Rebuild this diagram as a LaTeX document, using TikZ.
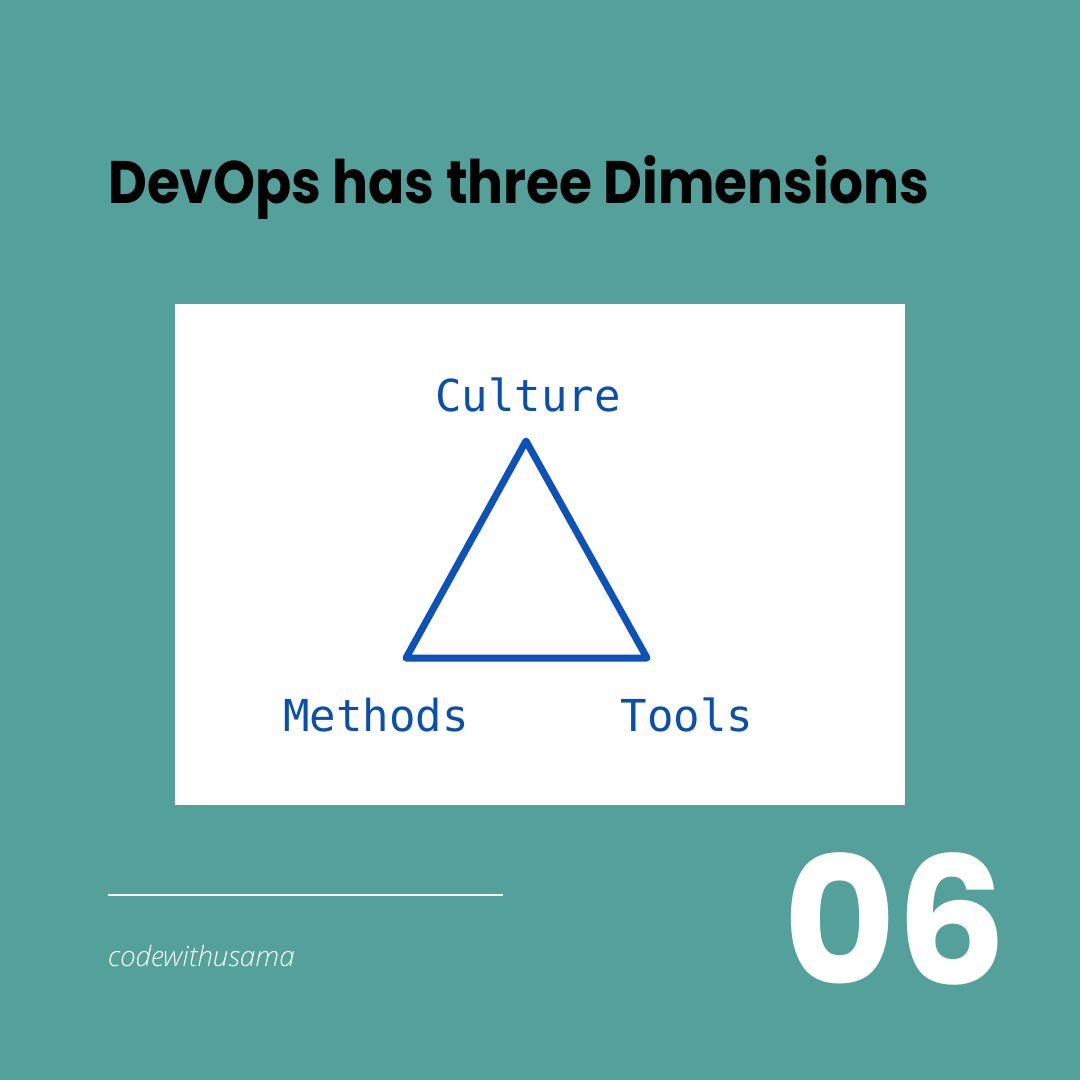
\documentclass[tikz,border=0pt]{standalone}
\usepackage{fontspec}
\setmainfont{Poppins}
\newfontfamily\titlefont{Poppins}[UprightFont=* Bold]
\newfontfamily\bigfont{Poppins}[UprightFont=* Bold]
\newfontfamily\monofont{DejaVu Sans Mono}
\newfontfamily\signfont{Open Sans}[UprightFont=* Light Italic]
\definecolor{bgteal}{HTML}{53A19A}
\definecolor{triblue}{HTML}{0D52B8}
\definecolor{textblue}{HTML}{0A4FAE}
\tikzset{
  lbl/.style={font=\monofont\fontsize{44}{44}\selectfont, text=textblue, inner sep=0pt, anchor=base},
}
\begin{document}
\begin{tikzpicture}[x=1pt,y=-1pt]
\useasboundingbox (0,0) rectangle (1080,1080);
\fill[bgteal] (0,0) rectangle (1080,1080);
% title
\node[anchor=base west, inner sep=0pt, xscale=0.89, font=\titlefont\fontsize{60}{60}\selectfont] (title) at (108,203) {DevOps has three Dimensions};
% white panel
\fill[white] (175,304) rectangle (905,805);
% triangle
\coordinate (apex) at (526,441);
\coordinate (bl) at (406,658);
\coordinate (br) at (647,658);
\draw[triblue, line width=7pt, line join=round] (apex) -- (bl) -- (br) -- cycle;
\node[lbl] (culture) at (528,411) {Culture};
\node[lbl] (methods) at (376,731) {Methods};
\node[lbl] (tools) at (687,731) {Tools};
% footer
\coordinate (l1) at (108,895);
\coordinate (l2) at (503,895);
\draw[white, line width=2pt] (l1) -- (l2);
\node[anchor=base west, inner sep=0pt, text=white, font=\signfont\fontsize{28}{28}\selectfont] (sign) at (108,966) {codewithusama};
\node[anchor=base east, inner sep=0pt, text=white, font=\bigfont\fontsize{177}{177}\selectfont, xscale=0.98] (num) at (1007,984) {06};
\end{tikzpicture}
\end{document}
